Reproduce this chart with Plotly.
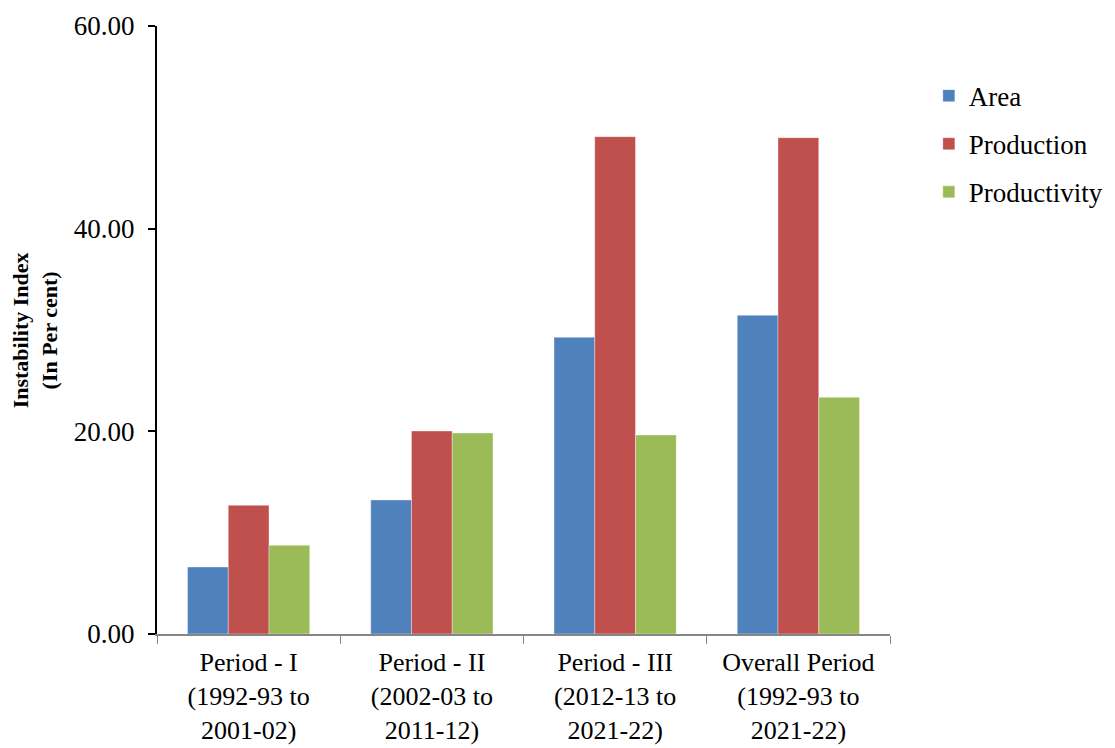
import plotly.graph_objects as go

periods = [
    "Period - I<br>(1992-93 to<br>2001-02)",
    "Period - II<br>(2002-03 to<br>2011-12)",
    "Period - III<br>(2012-13 to<br>2021-22)",
    "Overall Period<br>(1992-93 to<br>2021-22)",
]
area = [6.61, 13.23, 29.28, 31.45]
production = [12.70, 20.03, 49.08, 48.98]
productivity = [8.75, 19.84, 19.64, 23.36]

series = [
    ("Area", area, "#4F81BD"),
    ("Production", production, "#C0504D"),
    ("Productivity", productivity, "#9BBB59"),
]

FONT = "Liberation Serif"

fig = go.Figure()
for name, vals, color in series:
    fig.add_trace(go.Bar(
        x=periods, y=vals, name=name, legendgroup=name,
        marker=dict(color=color, line=dict(color="rgba(255,255,255,0.6)", width=0.6)),
    ))

fig.update_layout(
    width=1115, height=748,
    margin=dict(l=157, r=225, t=26, b=114, autoexpand=False),
    paper_bgcolor="white", plot_bgcolor="white",
    barmode="group", bargap=0.333, bargroupgap=0,
    font=dict(family=FONT, size=27, color="black"),
    legend=dict(
        x=1.053, y=0.925, xanchor="left", yanchor="top",
        font=dict(family=FONT, size=27, color="black"),
        tracegroupgap=10, bgcolor="rgba(0,0,0,0)", itemwidth=30,
    ),
    xaxis=dict(
        automargin=False,
        showline=True, linecolor="#868686", linewidth=1.5,
        ticks="outside", tickson="boundaries", ticklen=8, tickcolor="#868686",
        ticklabelstandoff=4,
        tickfont=dict(family=FONT, size=26, color="black"),
        showgrid=False,
    ),
    yaxis=dict(
        automargin=False,
        range=[0, 60], tickvals=[0, 20, 40, 60],
        ticktext=["0.00", "20.00", "40.00", "60.00"],
        showline=True, linecolor="black", linewidth=2,
        ticks="outside", ticklen=7, tickcolor="black", tickwidth=1.5,
        ticklabelstandoff=8,
        tickfont=dict(family=FONT, size=27, color="black"),
        showgrid=False, zeroline=False,
    ),
    annotations=[dict(
        text="<b>Instability Index<br>(In Per cent)</b>",
        x=-0.166, y=0.5, xref="paper", yref="paper",
        xanchor="center", yanchor="middle", textangle=-90, showarrow=False,
        font=dict(family=FONT, size=22, color="black"),
    )],
)

fig.write_html("out.html")
